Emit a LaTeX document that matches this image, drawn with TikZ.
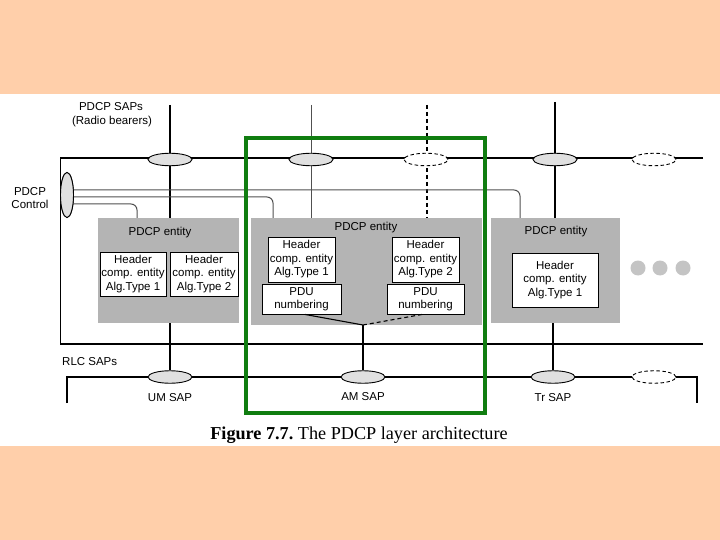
\documentclass[tikz,border=0pt]{standalone}
\usepackage{fontspec}
\setmainfont{Liberation Serif}
\newfontfamily\lsans{Liberation Sans}
\usetikzlibrary{shapes.geometric,calc}
\definecolor{peach}{RGB}{255,207,170}
\definecolor{entgray}{RGB}{180,180,180}
\definecolor{sapgray}{RGB}{224,224,224}
\definecolor{frgreen}{RGB}{16,125,16}
\definecolor{ctrlgray}{RGB}{80,80,80}
\definecolor{dotgray}{RGB}{196,196,196}
\tikzset{
  lbl/.style={font=\lsans\fontsize{11.5}{13}\selectfont, inner sep=0},
  sap/.style={ellipse, draw, fill=sapgray, minimum width=44, minimum height=12.5, inner sep=0, line width=0.9},
  sapd/.style={sap, fill=white, dash pattern=on 3.5pt off 2.5pt},
  ctrlsap/.style={ellipse, draw, fill=sapgray, minimum width=13, minimum height=45, inner sep=0, line width=0.9},
  entity/.style={fill=entgray, draw=none, inner sep=0},
  sub/.style={draw, fill=white, align=center, inner sep=0, font=\lsans\fontsize{11.5}{13.5}\selectfont, line width=0.9},
  wire/.style={line width=1.1},
  dwire/.style={line width=1.1, dash pattern=on 4pt off 3pt},
  cwire/.style={line width=1, draw=ctrlgray, rounded corners=6},
  dot/.style={circle, fill=dotgray, minimum size=15, inner sep=0},
}
\begin{document}
\begin{tikzpicture}[x=1pt,y=-1pt]
\useasboundingbox (0,0) rectangle (720,540);
% background
\fill[peach] (0,0) rectangle (720,94);
\fill[white] (0,94) rectangle (720,446);
\fill[peach] (0,446) rectangle (720,540);

% labels
\node[lbl] (sapslbl) at (111,106.5) {PDCP SAPs};
\node[lbl] (rblbl) at (112,121.5) {(Radio bearers)};
\node[lbl, align=center] (ctrllbl) at (30,198) {PDCP\\Control};
\node[lbl, anchor=west] (rlclbl) at (62,362) {RLC SAPs};

% entities
\node[entity, minimum width=141, minimum height=105] (e1) at (168.5,270.5) {};
\node[entity, minimum width=231, minimum height=107] (e2) at (366.5,271.5) {};
\node[entity, minimum width=129, minimum height=105] (e3) at (555.5,270.5) {};
\node[lbl] (e1l) at (160,233) {PDCP entity};
\node[lbl] (e2l) at (366,228) {PDCP entity};
\node[lbl] (e3l) at (556,232) {PDCP entity};

% sub-boxes
\node[sub, minimum width=66, minimum height=44] (ha) at (133,274) {Header\\comp. entity\\Alg.Type 1};
\node[sub, minimum width=68, minimum height=44] (hb) at (204,274) {Header\\comp. entity\\Alg.Type 2};
\node[sub, minimum width=67, minimum height=45] (hc) at (301.5,259.5) {Header\\comp. entity\\Alg.Type 1};
\node[sub, minimum width=67, minimum height=45] (hd) at (425.5,259.5) {Header\\comp. entity\\Alg.Type 2};
\node[sub, minimum width=79, minimum height=30] (pe) at (301.5,299) {PDU\\numbering};
\node[sub, minimum width=77, minimum height=30] (pf) at (425.5,299) {PDU\\numbering};
\node[sub, minimum width=86, minimum height=54] (hg) at (555,280) {Header\\comp. entity\\Alg.Type 1};

% dots
\node[dot] (d1) at (638,268) {};
\node[dot] (d2) at (660,268) {};
\node[dot] (d3) at (683,268) {};

% top-layer frame
\draw[wire] (703,158) -- (60.5,158) -- (60.5,344) -- (703,344);

% top vertical SAP lines
\coordinate (t1) at (170,105);
\coordinate (t2) at (311,105);
\coordinate (t3) at (427,105);
\coordinate (t4) at (555,102);
\draw[wire] (t1) -- (e1.north -| t1);
\draw[line width=0.8, draw=ctrlgray] (t2) -- (e2.north -| t2);
\draw[dwire] (t3) -- (e2.north -| t3);
\draw[wire] (t4) -- (e3.north -| t4);

% control
\node[ctrlsap] (ctrl) at (67,195) {};
\coordinate (c1) at (520,190);
\coordinate (c2) at (273,197);
\coordinate (c3) at (137,204);
\draw[cwire] (ctrl.center |- c1) -- (c1) -- (c1 |- e3.north);
\draw[cwire] (ctrl.center |- c2) -- (c2) -- (c2 |- e2.north);
\draw[cwire] (ctrl.center |- c3) -- (c3) -- (c3 |- e1.north);
\node[ctrlsap] (ctrl2) at (ctrl) {};

% top SAP ellipses
\node[sap] (s1) at (170,159.5) {};
\node[sap] (s2) at (311,159.5) {};
\node[sapd] (s3) at (426,159.5) {};
\node[sap] (s4) at (555,159.5) {};
\node[sapd] (s5) at (654,159.5) {};

% RLC line
\draw[wire] (67,403) -- (67,377) -- (697,377) -- (697,403);

% RLC SAPs
\node[sap] (um) at (170,377) {};
\node[sap] (am) at (363,377) {};
\node[sap] (tr) at (553,377) {};
\node[sapd] (r4) at (654,377) {};
\node[lbl] (uml) at (170,398) {UM SAP};
\node[lbl] (aml) at (363,397) {AM SAP};
\node[lbl] (trl) at (553,398) {Tr SAP};

% lower connections
\draw[wire] (e1.south -| um) -- (um.north);
\draw[wire] (e3.south -| tr) -- (tr.north);
\coordinate (j) at (363,325);
\draw[wire] ([xshift=3.5pt]pe.south) -- (j);
\draw[dwire] ([xshift=-3.5pt]pf.south) -- (j);
\draw[wire] (j) -- (am.north);

% green frame
\draw[frgreen, line width=4] (246,138) rectangle (485,413);

% caption
\node[inner sep=0, font=\fontsize{18.2}{20}\selectfont] (cap) at (359,435) {\textbf{Figure 7.7.}\ The PDCP layer architecture};
\end{tikzpicture}
\end{document}
